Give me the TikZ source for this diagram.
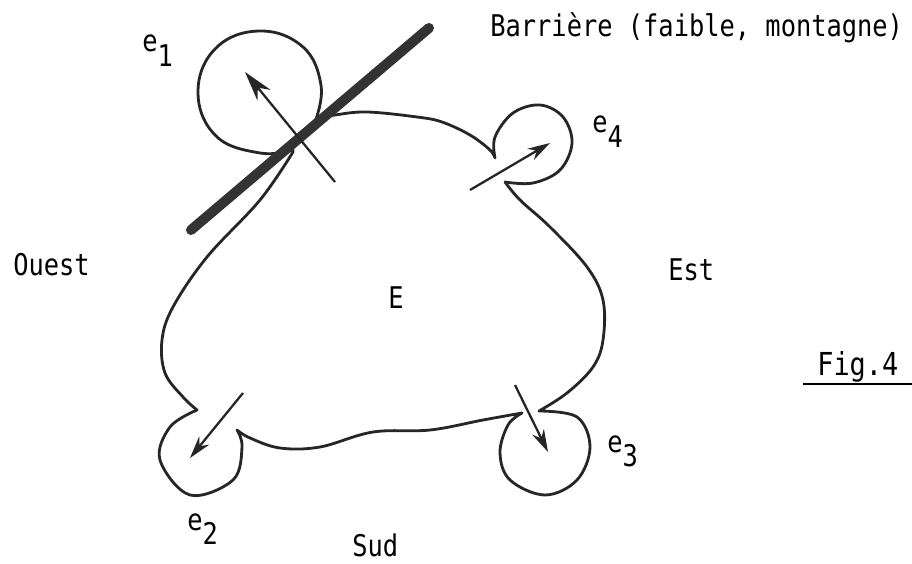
\documentclass[tikz,border=0pt]{standalone}
\usepackage{fontspec}
\setmonofont[FakeStretch=0.85]{DejaVu Sans Mono}
\usetikzlibrary{arrows.meta}

\newcommand{\lowsub}[1]{\raisebox{-8pt}{#1}}

\begin{document}
\begin{tikzpicture}[
    x=0.02cm, y=-0.02cm,
    every node/.style={font=\ttfamily\fontsize{17}{20}\selectfont, inner sep=0pt},
    outline/.style={draw=black!85, line width=1.6pt, line join=round, line cap=round},
    barrier/.style={draw=black!80, line width=0.2cm, line cap=round},
    arrow/.style={-{Stealth[length=0.45cm, width=0.26cm]}, line width=1.3pt, color=black!85},
    label/.style={anchor=base west},
]
\useasboundingbox (0,0) rectangle (912,564);

% Region E with its four lobes
\draw[outline]
    plot[smooth, tension=0.6] coordinates {(316,119) (335,115) (367,112) (417,117) (442,122) (470,135) (490,150) (495,158)}
 -- plot[smooth, tension=0.6] coordinates {(495,158) (495,137) (513,113) (540,105) (563,117) (572,143) (560,170) (533,183) (505,182)}
 -- plot[smooth, tension=0.6] coordinates {(505,182) (520,200) (550,227) (587,267) (603,300) (603,340) (593,367) (567,393) (539,411)}
 -- plot[smooth, tension=0.6] coordinates {(539,411) (577,417) (590,447) (577,480) (545,495) (510,480) (500,453) (508,425) (522,413)}
 -- plot[smooth, tension=0.6] coordinates {(522,413) (483,420) (430,430) (373,432) (320,447) (280,448) (250,438) (237,430)}
 -- plot[smooth, tension=0.6] coordinates {(237,430) (242,447) (233,480) (190,495) (160,460) (170,427) (197,410)}
 -- plot[smooth, tension=0.6] coordinates {(197,410) (183,397) (165,373) (162,340) (173,307) (207,257) (260,200) (293,152)}
 -- plot[smooth, tension=0.7] coordinates {(293,150) (260,153) (216,136) (198,92) (216,48) (260,31) (303,47) (321,85) (316,119)};

% Barrier
\coordinate (bLow) at (191,230);
\coordinate (bHigh) at (429,28);
\draw[barrier] (bLow) -- (bHigh);

% Arrows into the lobes
\coordinate (a1s) at (335,182); \coordinate (a1t) at (245,72);
\coordinate (a4s) at (470,190); \coordinate (a4t) at (550,143);
\coordinate (a2s) at (243,393); \coordinate (a2t) at (190,458);
\coordinate (a3s) at (515,385); \coordinate (a3t) at (548,452);
\draw[arrow, -{Stealth[length=0.6cm, width=0.34cm]}] (a1s) -- (a1t);
\draw[arrow] (a4s) -- (a4t);
\draw[arrow] (a2s) -- (a2t);
\draw[arrow] (a3s) -- (a3t);

% Labels
\node[label] (barlab) at (490,37) {Barrière (faible, montagne)};
\node[label] (e1) at (142,52) {e\lowsub{1}};
\node[label] (e4) at (592,133) {e\lowsub{4}};
\node[label] (e3) at (607,452) {e\lowsub{3}};
\node[label] (e2) at (187,530) {e\lowsub{2}};
\node[label] (ouest) at (13,275) {Ouest};
\node[label] (est) at (668,280) {Est};
\node[label] (E) at (388,308) {E};
\node[label] (sud) at (352,556) {Sud};
\node[label, font=\ttfamily\fontsize{18}{20}\selectfont] (fig) at (817,375) {Fig.4};
\coordinate (ulL) at (803,384);
\coordinate (ulR) at (912,384);
\draw[line width=0.8pt] (ulL) -- (ulR);

\end{tikzpicture}
\end{document}
